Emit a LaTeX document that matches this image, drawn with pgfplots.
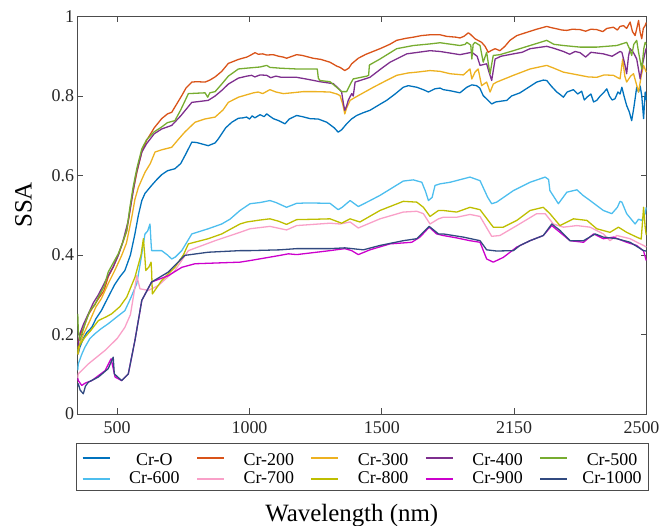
\documentclass[border=0pt]{standalone}
\usepackage{fontspec}
\setmainfont{Liberation Serif}
\usepackage{pgfplots}
\pgfplotsset{compat=1.18}
\definecolor{c0}{HTML}{0072BD}
\definecolor{c200}{HTML}{D95319}
\definecolor{c300}{HTML}{EDB120}
\definecolor{c400}{HTML}{7E2F8E}
\definecolor{c500}{HTML}{77AC30}
\definecolor{c600}{HTML}{4DBEEE}
\definecolor{c700}{HTML}{F9A0C8}
\definecolor{c800}{HTML}{BEBE00}
\definecolor{c900}{HTML}{CC00CC}
\definecolor{c1000}{HTML}{314A80}
\begin{document}
\begin{tikzpicture}
\begin{axis}[
  at={(0,0)}, anchor=south west,
  scale only axis, width=569bp, height=397.5bp,
  xmin=350, xmax=2500, ymin=0, ymax=1,
  xtick={500,1000,1500,2000,2500}, xticklabels={500,1000,1500,2150,{\hspace*{-10bp}2500}},
  ytick={0,0.2,0.4,0.6,0.8,1}, yticklabels={0,0.2,0.4,0.6,0.8,1},
  tick align=inside, major tick length=6bp,
  axis line style={draw=black!70, line width=0.8bp},
  every tick/.style={black!70, line width=0.8bp},
  tick label style={font=\fontsize{18}{18}\selectfont, text=black!85},
  xticklabel style={yshift=-4bp},
  xlabel={Wavelength (nm)}, ylabel={SSA},
  label style={font=\fontsize{25}{25}\selectfont},
  xlabel style={at={(axis description cs:0.482,-0.2704)}, anchor=base},
  ylabel style={at={(axis description cs:-0.0805,0.526)}, anchor=base},
  legend columns=5,
  legend image code/.code={\draw[#1, line width=1.4bp] (0bp,0bp) -- (27bp,0bp);},
  legend style={
    at={(axis description cs:0.5,0)}, anchor=north, yshift=-29bp,
    draw=black!70, line width=0.8bp,
    font=\fontsize{18}{18}\selectfont,
    inner xsep=6bp, inner ysep=3.4bp,
    nodes={text width=60bp, align=center, inner sep=0pt, text depth=4bp},
    /tikz/every odd row/.append style={text height=18.5bp},
    /tikz/every even row/.append style={text height=12.5bp},
    /tikz/every even column/.append style={column sep=12bp},
    /tikz/every odd column/.append style={column sep=14bp},
    row sep=1.5bp,
  },
  every axis plot/.append style={line width=1.3bp, line join=round},
]
% Cr-O
\addplot[c0] coordinates {
(352,0.15)(359,0.168)(372,0.19)(385,0.205)(404,0.218)(420,0.24)(440,0.26)(466,0.294)(490,0.325)(510,0.345)
(529,0.361)(550,0.40)(567,0.453)(580,0.50)(593,0.537)(605,0.555)(630,0.575)(650,0.59)(668,0.602)(690,0.612)
(718,0.617)(740,0.63)(760,0.655)(782,0.684)(800,0.683)(844,0.675)(870,0.682)(882,0.692)(910,0.72)(933,0.734)
(958,0.744)(975,0.745)(989,0.747)(1000,0.742)(1010,0.75)(1020,0.745)(1040,0.753)(1055,0.748)(1065,0.755)(1077,0.749)
(1090,0.743)(1110,0.738)(1134,0.730)(1150,0.742)(1178,0.751)(1200,0.748)(1229,0.743)(1260,0.742)(1292,0.734)(1320,0.72)
(1335,0.709)(1348,0.715)(1367,0.730)(1385,0.742)(1405,0.751)(1430,0.758)(1455,0.764)(1490,0.778)(1518,0.789)(1550,0.805)
(1581,0.822)(1600,0.826)(1632,0.822)(1660,0.815)(1676,0.810)(1700,0.818)(1720,0.820)(1732,0.816)(1760,0.813)(1795,0.808)
(1821,0.822)(1840,0.828)(1858,0.826)(1870,0.82)(1883,0.801)(1900,0.790)(1915,0.780)(1930,0.785)(1950,0.787)(1972,0.789)
(1990,0.80)(2022,0.808)(2050,0.82)(2085,0.835)(2110,0.84)(2123,0.839)(2140,0.825)(2161,0.810)(2175,0.803)(2186,0.797)
(2200,0.81)(2224,0.816)(2240,0.805)(2255,0.812)(2265,0.79)(2275,0.797)(2290,0.805)(2300,0.785)(2312,0.789)(2325,0.80)
(2340,0.81)(2350,0.818)(2360,0.80)(2370,0.79)(2381,0.793)(2392,0.81)(2400,0.805)(2407,0.822)(2415,0.80)(2425,0.776)
(2435,0.76)(2444,0.738)(2452,0.77)(2463,0.822)(2470,0.81)(2476,0.825)(2482,0.801)(2489,0.743)(2495,0.81)(2499,0.79)
};
\addlegendentry{Cr-O}
% Cr-200
\addplot[c200] coordinates {
(352,0.18)(360,0.2)(372,0.215)(391,0.25)(410,0.27)(429,0.29)(450,0.31)(466,0.345)(485,0.37)(504,0.40)
(520,0.43)(536,0.46)(548,0.51)(560,0.56)(575,0.61)(593,0.659)(611,0.688)(640,0.72)(668,0.743)(690,0.755)
(706,0.759)(725,0.78)(744,0.801)(760,0.82)(782,0.835)(800,0.836)(832,0.835)(850,0.840)(870,0.848)(895,0.862)
(920,0.882)(958,0.892)(990,0.898)(1002,0.902)(1021,0.909)(1033,0.905)(1050,0.906)(1065,0.903)(1089,0.904)(1110,0.90)
(1127,0.898)(1140,0.895)(1178,0.904)(1200,0.902)(1240,0.895)(1270,0.892)(1304,0.885)(1330,0.875)(1342,0.872)(1360,0.864)
(1375,0.87)(1386,0.881)(1411,0.895)(1440,0.905)(1493,0.919)(1530,0.93)(1556,0.940)(1590,0.945)(1619,0.948)(1650,0.952)
(1682,0.954)(1720,0.954)(1745,0.950)(1780,0.948)(1795,0.946)(1810,0.95)(1827,0.959)(1835,0.955)(1852,0.944)(1877,0.935)
(1890,0.925)(1902,0.910)(1915,0.915)(1928,0.919)(1946,0.914)(1965,0.925)(1984,0.940)(2010,0.952)(2047,0.960)(2085,0.968)
(2123,0.975)(2140,0.972)(2161,0.969)(2180,0.966)(2199,0.965)(2220,0.968)(2249,0.967)(2270,0.963)(2290,0.968)(2312,0.967)
(2335,0.962)(2350,0.97)(2375,0.973)(2390,0.966)(2400,0.975)(2413,0.977)(2425,0.97)(2438,0.986)(2447,0.962)(2457,0.952)
(2465,0.975)(2470,0.990)(2476,0.96)(2482,0.944)(2488,0.97)(2495,0.977)(2499,0.985)
};
\addlegendentry{Cr-200}
% Cr-300
\addplot[c300] coordinates {
(352,0.15)(359,0.177)(372,0.20)(397,0.235)(420,0.27)(440,0.29)(466,0.328)(490,0.36)(517,0.399)(535,0.43)
(555,0.495)(567,0.54)(580,0.57)(593,0.59)(605,0.608)(625,0.63)(643,0.659)(670,0.665)(706,0.671)(730,0.69)
(755,0.709)(794,0.734)(830,0.742)(870,0.747)(900,0.765)(920,0.784)(958,0.797)(989,0.803)(1015,0.808)(1033,0.810)
(1050,0.806)(1077,0.816)(1100,0.81)(1128,0.806)(1160,0.808)(1203,0.811)(1250,0.811)(1304,0.810)(1330,0.805)(1342,0.801)
(1352,0.78)(1360,0.755)(1367,0.77)(1380,0.789)(1395,0.795)(1411,0.801)(1468,0.822)(1520,0.84)(1556,0.852)(1600,0.858)
(1632,0.860)(1682,0.864)(1720,0.862)(1758,0.856)(1808,0.853)(1833,0.868)(1840,0.843)(1852,0.86)(1864,0.868)(1877,0.826)
(1896,0.835)(1909,0.810)(1921,0.83)(1934,0.835)(1997,0.852)(2060,0.868)(2123,0.877)(2150,0.87)(2186,0.860)(2249,0.852)
(2280,0.848)(2312,0.847)(2340,0.853)(2375,0.852)(2400,0.843)(2410,0.893)(2418,0.85)(2425,0.835)(2440,0.85)(2451,0.856)
(2470,0.810)(2480,0.85)(2489,0.877)(2499,0.86)
};
\addlegendentry{Cr-300}
% Cr-400
\addplot[c400] coordinates {
(352,0.17)(359,0.202)(372,0.225)(391,0.252)(410,0.28)(429,0.30)(466,0.348)(485,0.37)(504,0.399)(520,0.43)
(542,0.487)(555,0.54)(570,0.60)(593,0.659)(611,0.68)(640,0.705)(668,0.717)(706,0.726)(740,0.75)(782,0.784)
(820,0.787)(844,0.789)(870,0.80)(895,0.814)(920,0.83)(958,0.845)(990,0.85)(1008,0.852)(1020,0.848)(1040,0.853)
(1065,0.852)(1080,0.846)(1100,0.85)(1120,0.847)(1178,0.847)(1220,0.842)(1266,0.836)(1317,0.831)(1342,0.815)(1348,0.81)
(1355,0.78)(1360,0.764)(1367,0.775)(1373,0.789)(1386,0.806)(1392,0.8)(1399,0.835)(1455,0.847)(1500,0.87)(1531,0.885)
(1594,0.906)(1682,0.914)(1720,0.912)(1795,0.904)(1840,0.910)(1860,0.90)(1871,0.877)(1896,0.881)(1905,0.86)(1915,0.839)
(1928,0.893)(1950,0.90)(1997,0.906)(2030,0.91)(2060,0.919)(2123,0.925)(2150,0.92)(2186,0.912)(2210,0.905)(2230,0.912)
(2249,0.909)(2270,0.898)(2290,0.91)(2337,0.906)(2370,0.90)(2400,0.912)(2407,0.910)(2418,0.88)(2425,0.856)(2432,0.90)
(2438,0.919)(2450,0.91)(2463,0.893)(2476,0.843)(2485,0.88)(2495,0.910)(2499,0.92)
};
\addlegendentry{Cr-400}
% Cr-500
\addplot[c500] coordinates {
(351,0.252)(353,0.21)(359,0.185)(366,0.2)(380,0.23)(397,0.26)(416,0.275)(429,0.294)(450,0.32)(466,0.357)
(485,0.38)(504,0.403)(520,0.43)(536,0.462)(548,0.52)(560,0.57)(575,0.62)(593,0.667)(611,0.69)(640,0.71)
(668,0.722)(690,0.733)(718,0.738)(740,0.765)(769,0.806)(800,0.807)(832,0.808)(842,0.797)(850,0.808)(870,0.811)
(895,0.830)(920,0.85)(958,0.868)(989,0.870)(1040,0.873)(1065,0.877)(1077,0.872)(1115,0.870)(1178,0.868)(1220,0.868)
(1256,0.868)(1260,0.845)(1266,0.839)(1304,0.836)(1329,0.822)(1348,0.811)(1367,0.811)(1385,0.835)(1392,0.843)(1443,0.850)
(1450,0.852)(1453,0.878)(1493,0.893)(1556,0.919)(1619,0.927)(1682,0.931)(1720,0.934)(1795,0.927)(1815,0.93)(1821,0.935)
(1836,0.928)(1840,0.893)(1845,0.93)(1852,0.935)(1871,0.927)(1883,0.885)(1896,0.910)(1905,0.87)(1909,0.856)(1915,0.88)
(1921,0.902)(1946,0.904)(1997,0.914)(2060,0.927)(2123,0.940)(2150,0.93)(2186,0.927)(2249,0.923)(2312,0.923)(2388,0.927)
(2425,0.935)(2435,0.92)(2444,0.902)(2452,0.93)(2463,0.940)(2470,0.91)(2482,0.868)(2490,0.92)(2495,0.935)(2499,0.93)
};
\addlegendentry{Cr-500}
% Cr-600
\addplot[c600] coordinates {
(351,0.11)(353,0.126)(366,0.15)(378,0.168)(397,0.19)(416,0.202)(440,0.215)(466,0.227)(500,0.245)(529,0.260)
(550,0.29)(574,0.328)(590,0.39)(605,0.453)(615,0.46)(624,0.478)(628,0.43)(630,0.411)(668,0.411)(690,0.40)
(706,0.390)(720,0.395)(744,0.411)(782,0.453)(844,0.466)(895,0.478)(926,0.490)(964,0.512)(1002,0.529)(1040,0.532)
(1077,0.537)(1100,0.532)(1140,0.520)(1178,0.530)(1220,0.531)(1304,0.530)(1335,0.514)(1350,0.52)(1380,0.537)(1411,0.522)
(1450,0.535)(1493,0.550)(1581,0.586)(1619,0.589)(1651,0.583)(1665,0.56)(1676,0.537)(1690,0.545)(1701,0.575)(1720,0.579)
(1758,0.583)(1833,0.596)(1871,0.587)(1900,0.545)(1915,0.529)(1934,0.533)(1997,0.562)(2060,0.583)(2117,0.596)(2130,0.59)
(2135,0.562)(2167,0.529)(2199,0.558)(2237,0.564)(2260,0.55)(2287,0.537)(2337,0.512)(2369,0.504)(2390,0.52)(2400,0.535)
(2407,0.533)(2425,0.504)(2457,0.478)(2470,0.49)(2482,0.487)(2495,0.504)(2499,0.52)
};
\addlegendentry{Cr-600}
% Cr-700
\addplot[c700] coordinates {
(351,0.09)(353,0.101)(391,0.126)(454,0.160)(500,0.19)(529,0.218)(550,0.25)(561,0.294)(574,0.348)(586,0.315)
(618,0.311)(655,0.323)(718,0.361)(769,0.411)(870,0.436)(964,0.457)(1002,0.466)(1077,0.472)(1140,0.463)(1178,0.474)
(1304,0.480)(1342,0.478)(1380,0.483)(1411,0.468)(1493,0.491)(1581,0.508)(1632,0.510)(1657,0.504)(1682,0.478)(1714,0.491)
(1732,0.495)(1783,0.495)(1833,0.502)(1871,0.497)(1915,0.447)(1946,0.449)(2010,0.474)(2085,0.504)(2117,0.504)(2148,0.478)
(2186,0.470)(2237,0.474)(2287,0.470)(2337,0.453)(2362,0.436)(2388,0.449)(2438,0.441)(2470,0.43)(2489,0.424)(2499,0.42)
};
\addlegendentry{Cr-700}
% Cr-800
\addplot[c800] coordinates {
(351,0.15)(353,0.168)(378,0.193)(400,0.21)(429,0.235)(460,0.245)(479,0.252)(510,0.27)(536,0.294)(567,0.344)
(590,0.40)(599,0.441)(604,0.40)(608,0.361)(620,0.37)(628,0.382)(630,0.36)(633,0.302)(668,0.336)(718,0.369)
(750,0.40)(769,0.428)(844,0.441)(895,0.453)(964,0.478)(989,0.483)(1040,0.488)(1077,0.491)(1110,0.485)(1140,0.477)
(1178,0.489)(1250,0.490)(1304,0.491)(1348,0.480)(1380,0.491)(1417,0.483)(1493,0.512)(1581,0.535)(1632,0.533)(1657,0.520)
(1682,0.497)(1714,0.512)(1732,0.512)(1783,0.508)(1833,0.520)(1871,0.514)(1921,0.470)(1959,0.470)(2010,0.487)(2060,0.512)
(2110,0.520)(2135,0.504)(2173,0.474)(2224,0.491)(2275,0.487)(2312,0.466)(2362,0.457)(2394,0.470)(2425,0.457)(2463,0.445)
(2480,0.44)(2489,0.520)(2495,0.470)(2499,0.45)
};
\addlegendentry{Cr-800}
% Cr-900
\addplot[c900] coordinates {
(351,0.09)(353,0.084)(366,0.072)(380,0.078)(404,0.084)(454,0.109)(477,0.139)(492,0.093)(517,0.084)(542,0.101)
(567,0.185)(593,0.286)(630,0.332)(693,0.348)(744,0.369)(794,0.378)(964,0.382)(1002,0.386)(1115,0.399)(1147,0.403)
(1178,0.401)(1304,0.411)(1360,0.416)(1386,0.411)(1411,0.401)(1455,0.413)(1531,0.428)(1613,0.432)(1644,0.445)(1679,0.470)
(1707,0.453)(1732,0.449)(1783,0.443)(1833,0.436)(1871,0.432)(1896,0.390)(1921,0.382)(1959,0.394)(2010,0.420)(2060,0.436)
(2110,0.449)(2142,0.474)(2173,0.457)(2211,0.436)(2262,0.432)(2300,0.453)(2337,0.441)(2375,0.445)(2425,0.432)(2463,0.424)
(2489,0.41)(2499,0.386)
};
\addlegendentry{Cr-900}
% Cr-1000
\addplot[c1000] coordinates {
(351,0.07)(353,0.076)(360,0.06)(372,0.051)(380,0.07)(391,0.080)(429,0.093)(466,0.114)(485,0.143)(489,0.101)
(517,0.084)(542,0.101)(567,0.185)(593,0.286)(630,0.332)(693,0.357)(755,0.399)(844,0.407)(964,0.411)(1002,0.411)
(1115,0.413)(1178,0.416)(1304,0.416)(1360,0.418)(1430,0.413)(1493,0.424)(1581,0.436)(1632,0.441)(1679,0.472)(1714,0.453)
(1732,0.453)(1808,0.445)(1871,0.436)(1896,0.413)(1934,0.410)(1997,0.411)(2022,0.424)(2060,0.436)(2110,0.449)(2142,0.478)
(2173,0.462)(2211,0.436)(2262,0.436)(2306,0.453)(2337,0.445)(2388,0.441)(2438,0.432)(2489,0.411)(2499,0.41)
};
\addlegendentry{Cr-1000}
\end{axis}
\pgfresetboundingbox
\path[use as bounding box] (-77.5bp,-112bp) rectangle (583.5bp,414bp);
\end{tikzpicture}
\end{document}
